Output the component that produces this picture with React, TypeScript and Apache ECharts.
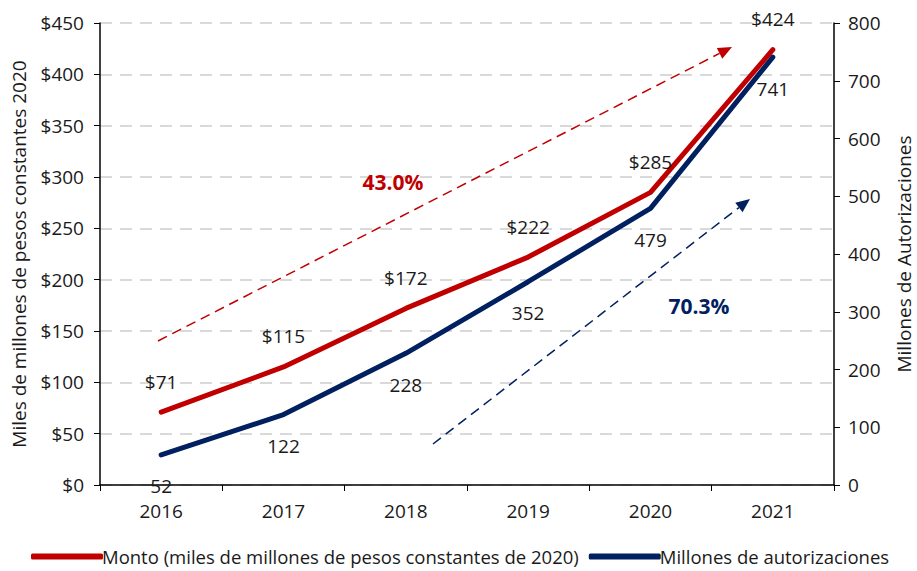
import React, { useEffect, useRef } from "react";
import * as echarts from "echarts";

const years = ["2016", "2017", "2018", "2019", "2020", "2021"];
const monto = [71, 115, 172, 222, 285, 424];
const autorizaciones = [52, 122, 228, 352, 479, 741];
const montoName = "Monto (miles de millones de pesos constantes de 2020)";
const autName = "Millones de autorizaciones";
const redGrowth = "43.0%";
const blueGrowth = "70.3%";

const RED = "#c00000";
const NAVY = "#002060";
const FONT = "'Open Sans', 'Noto Sans', sans-serif";

function arrow(x1: number, y1: number, x2: number, y2: number, color: string) {
  const dx = x2 - x1;
  const dy = y2 - y1;
  const len = Math.sqrt(dx * dx + dy * dy);
  const ux = dx / len;
  const uy = dy / len;
  const hl = 14;
  const hw = 6;
  const bx = x2 - ux * hl;
  const by = y2 - uy * hl;
  return [
    {
      type: "line",
      shape: { x1, y1, x2: bx, y2: by },
      style: { stroke: color, lineWidth: 1.5, lineDash: [10, 6] },
      z: 50,
    },
    {
      type: "polygon",
      shape: {
        points: [
          [x2, y2],
          [bx - uy * hw, by + ux * hw],
          [bx + uy * hw, by - ux * hw],
        ],
      },
      style: { fill: color },
      z: 50,
    },
  ];
}

export default function App() {
  const ref = useRef<HTMLDivElement>(null);
  useEffect(() => {
    if (!ref.current) return;
    const chart = echarts.init(ref.current, null, { renderer: "svg" });
    const labelStyle = { fontFamily: FONT, fontSize: 19, color: "#1a1a1a" };
    chart.setOption({
      animation: false,
      textStyle: { fontFamily: FONT },
      grid: { left: 100, right: 83, top: 23, bottom: 86, containLabel: false, outerBoundsMode: "none" },
      legend: {
        bottom: 0,
        left: 26,
        itemWidth: 72,
        itemHeight: 6,
        itemGap: 10,
        icon: "roundRect",
        textStyle: { fontFamily: FONT, fontSize: 18.5, color: "#1a1a1a", padding: [0, 0, 0, -6] },
        data: [montoName, autName],
      },
      xAxis: {
        type: "category",
        data: years,
        boundaryGap: true,
        axisLine: { lineStyle: { color: "#000", width: 1.5 } },
        axisTick: { show: true, length: 6, lineStyle: { color: "#000" } },
        axisLabel: { ...labelStyle, margin: 16 },
      },
      yAxis: [
        {
          type: "value",
          min: 0,
          max: 450,
          interval: 50,
          name: "Miles de millones de pesos constantes 2020",
          nameLocation: "middle",
          nameGap: 72,
          nameTextStyle: { fontFamily: FONT, fontSize: 19, color: "#1a1a1a" },
          axisLine: { show: true, lineStyle: { color: "#000", width: 1.5 } },
          axisTick: { show: true, length: 6, lineStyle: { color: "#000" } },
          axisLabel: { ...labelStyle, margin: 16, formatter: (v: number) => "$" + v },
          splitLine: { show: true, lineStyle: { color: "#d9d9d9", width: 2, type: [12, 8] } },
        },
        {
          type: "value",
          min: 0,
          max: 800,
          interval: 100,
          name: "Millones de Autorizaciones",
          nameLocation: "middle",
          nameGap: 60,
          nameRotate: 90,
          nameTextStyle: { fontFamily: FONT, fontSize: 19, color: "#1a1a1a" },
          axisLine: { show: true, lineStyle: { color: "#000", width: 1.5 } },
          axisTick: { show: true, length: 6, lineStyle: { color: "#000" } },
          axisLabel: { ...labelStyle, margin: 14 },
          splitLine: { show: false },
        },
      ],
      series: [
        {
          name: montoName,
          type: "line",
          yAxisIndex: 0,
          data: monto,
          color: RED,
          symbol: "circle",
          symbolSize: 4,
          itemStyle: { color: RED },
          lineStyle: { width: 5, color: RED, cap: "round" },
          label: {
            show: true,
            position: "top",
            distance: 19,
            ...labelStyle,
            formatter: (p: any) => "$" + p.value,
          },
          z: 3,
        },
        {
          name: autName,
          type: "line",
          yAxisIndex: 1,
          data: autorizaciones,
          color: NAVY,
          symbol: "circle",
          symbolSize: 4,
          itemStyle: { color: NAVY },
          lineStyle: { width: 5, color: NAVY, cap: "round" },
          label: {
            show: true,
            position: "bottom",
            distance: 20,
            ...labelStyle,
          },
          z: 2,
        },
      ],
      graphic: [
        ...arrow(158, 341, 732, 47, RED),
        ...arrow(433, 444, 750, 199, NAVY),
        {
          type: "text",
          x: 393,
          y: 182,
          style: {
            text: redGrowth,
            fill: RED,
            font: `bold 21px ${FONT}`,
            textAlign: "center",
            textVerticalAlign: "middle",
          },
          z: 50,
        },
        {
          type: "text",
          x: 699,
          y: 306,
          style: {
            text: blueGrowth,
            fill: NAVY,
            font: `bold 21px ${FONT}`,
            textAlign: "center",
            textVerticalAlign: "middle",
          },
          z: 50,
        },
      ],
    });
    return () => chart.dispose();
  }, []);
  return <div ref={ref} style={{ width: 917, height: 571, position: "absolute", left: 0, top: 0 }} />;
}
